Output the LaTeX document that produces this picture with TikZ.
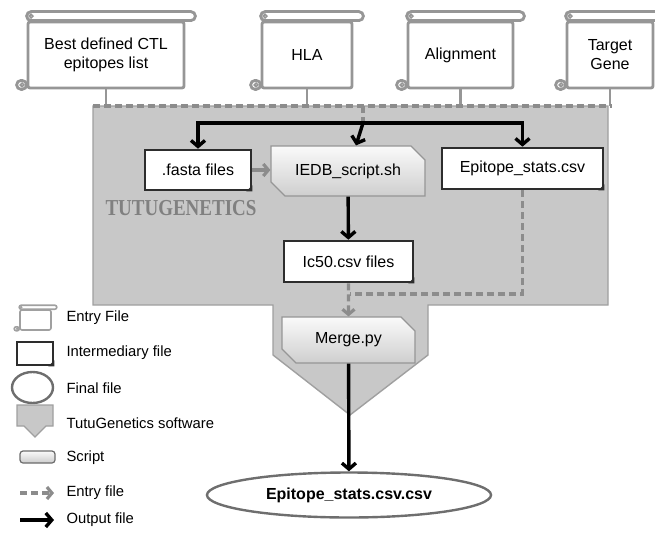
\documentclass[tikz,border=0pt]{standalone}
\usepackage{fontspec}
\setmainfont{Liberation Sans}
\newfontfamily\brandfont{Liberation Serif}
\usetikzlibrary{arrows.meta,calc,shapes.misc,shapes.geometric}

\definecolor{softfill}{RGB}{200,200,200}
\definecolor{softedge}{RGB}{160,160,160}
\definecolor{dashgray}{RGB}{140,140,140}
\definecolor{scrollgray}{RGB}{150,150,150}
\definecolor{darkedge}{RGB}{45,45,45}
\definecolor{scriptedge}{RGB}{150,150,150}
\definecolor{brandgray}{RGB}{128,128,128}
\definecolor{finaledge}{RGB}{110,110,110}

\newcommand\rollparts[4]{%
  \draw[scrollline,line width=#3,rounded corners=#4] ($(#1.north west)+(0,-#2)$) rectangle ($(#1.north east)+(#2+1,0)$);
  \draw[scrollline,line width=#3,rounded corners=#4] ($(#1.south west)+(-#2-1,-#2)$) rectangle (#1.south west);
  \draw[scrollline,line width=#3*0.6] ($(#1.north west)+(#2*0.5,-#2*0.5)$) circle (#2*0.2);
  \draw[scrollline,line width=#3*0.6] ($(#1.south west)+(-#2*0.5,-#2*0.5)$) circle (#2*0.2);
}

\begin{document}
\begin{tikzpicture}[x=1pt,y=-1pt,
   every node/.style={font=\fontsize{16}{19}\selectfont},
   scrollline/.style={draw=scrollgray,fill=white},
   entryfile/.style={draw=scrollgray,line width=2.8pt,fill=white,rounded corners=2pt,inner sep=0pt,align=center},
   midfile/.style={draw=darkedge,line width=2.6pt,fill=white,inner sep=0pt},
   scriptbox/.style={chamfered rectangle,chamfered rectangle corners={north east,south west},
      chamfered rectangle xsep=7pt,chamfered rectangle ysep=7pt,draw=scriptedge,line width=1.2pt,
      top color=gray!4,bottom color=gray!38,inner sep=0pt},
   softline/.style={draw=softedge,line width=1.4pt,fill=softfill},
   stemline/.style={draw=scrollgray,line width=2.8pt},
   outarrow/.style={draw=black,line width=3.4pt,-{Straight Barb[length=6pt,width=14pt]}},
   inarrow/.style={draw=dashgray,line width=3.2pt,-{Straight Barb[length=5pt,width=12pt]}},
   indash/.style={inarrow,dash pattern=on 7pt off 4pt},
   legendtext/.style={anchor=west,font=\fontsize{14.8}{17}\selectfont}]
   \useasboundingbox (0,0) rectangle (655,535);
   \clip (0,0) rectangle (655,535);

   % software block
   \draw[softline] (93,106) -- (608,106) -- (608,305) -- (428,305) -- (428,355) -- (350,415)
      -- (273,355) -- (273,305) -- (93,305) -- cycle;
   \coordinate (tl) at (93,106);
   \coordinate (tr) at (612,106);
   \coordinate (hub) at (363,123);
   \coordinate (joint) at (350,294);

   % entry files
   \node[entryfile,minimum width=156pt,minimum height=66pt] (ctl) at (106,55) {Best defined CTL\\epitopes list};
   \node[entryfile,minimum width=90pt,minimum height=66pt] (hla) at (307,55) {HLA};
   \node[entryfile,minimum width=105pt,minimum height=66pt] (align) at (460.5,55) {Alignment};
   \node[entryfile,minimum width=86pt,minimum height=66pt] (gene) at (610,55) {Target\\Gene};
   \foreach \n in {ctl,hla,align,gene}{
     \rollparts{\n}{9}{2.8pt}{4.5pt}
     \draw[stemline] (\n.south) -- (\n.south |- tl);
   }
   \draw[indash,-] (tl) -- (tr);
   \draw[indash,-] (tl -| hub) -- (hub);

   \node[brandgray,font=\brandfont\bfseries\fontsize{19}{21}\selectfont] (brand) at (181,208) {\scalebox{1}[1.2]{TUTUGENETICS}};

   % files and scripts
   \node[midfile,minimum width=106pt,minimum height=40pt] (fasta) at (198,170) {.fasta files};
   \node[scriptbox,minimum width=154pt,minimum height=50pt] (iedb) at (348,171) {IEDB\_script.sh};
   \node[midfile,minimum width=161pt,minimum height=41pt] (stats) at (522.5,168.5) {Epitope\_stats.csv};
   \node[midfile,minimum width=129pt,minimum height=41pt] (ic50) at (348.5,261.5) {Ic50.csv files};
   \node[scriptbox,minimum width=133pt,minimum height=46pt] (merge) at (348.5,340) {Merge.py};
   \node[ellipse,draw=finaledge,line width=2.4pt,fill=white,minimum width=284pt,minimum height=45pt,
      inner sep=0pt,font=\bfseries\fontsize{16}{19}\selectfont] (final) at (349,495) {Epitope\_stats.csv.csv};

   \draw[outarrow] (hub) -| (fasta);
   \draw[outarrow] (hub) -| (stats);
   \draw[outarrow] (hub) -- (iedb);
   \draw[inarrow] (fasta.east) -- (fasta.east -| iedb.west);
   \draw[outarrow] (iedb) -- (ic50);
   \draw[indash,-] (stats) |- (joint);
   \draw[indash] (ic50) -- (merge);
   \draw[outarrow] (merge) -- (final);

   % legend
   \node[entryfile,line width=1.6pt,draw=softedge,minimum width=31pt,minimum height=20pt] (lgentry) at (35.5,320) {};
   \begin{scope}[scrollline/.style={draw=softedge,fill=white}]
     \rollparts{lgentry}{4}{1.6pt}{2pt}
   \end{scope}
   \node[midfile,minimum width=36pt,minimum height=23pt] (lginter) at (35,353.5) {};
   \node[ellipse,draw=finaledge,line width=2.4pt,minimum width=41pt,minimum height=31pt,inner sep=0pt] (lgfinal) at (32.5,387.5) {};
   \draw[softline] (17,405) -- (53,405) -- (53,426) -- (46,426) -- (35,437) -- (24,426) -- (17,426) -- cycle;
   \node[draw=darkedge!70,line width=1.2pt,rounded corners=3pt,top color=gray!4,bottom color=gray!40,
      minimum width=35pt,minimum height=12pt,inner sep=0pt] (lgscript) at (37.5,457) {};
   \coordinate (lgdasha) at (20,493);
   \coordinate (lgdashb) at (54,493);
   \coordinate (lgouta) at (20,520);
   \coordinate (lgoutb) at (54,520);
   \draw[indash] (lgdasha) -- (lgdashb);
   \draw[outarrow] (lgouta) -- (lgoutb);
   \foreach \n in {fasta,stats,ic50,lginter}
     \fill[darkedge] ($(\n.south east)+(-6,0)$) -- (\n.south east) -- ($(\n.south east)+(0,-6)$) -- cycle;

   \node[legendtext] (lt1) at (63,318) {Entry File};
   \node[legendtext] (lt2) at (63,353) {Intermediary file};
   \node[legendtext] (lt3) at (63,388) {Final file};
   \node[legendtext] (lt4) at (63,423) {TutuGenetics software};
   \node[legendtext] (lt5) at (63,458) {Script};
   \node[legendtext] (lt6) at (63,493) {Entry file};
   \node[legendtext] (lt7) at (63,520) {Output file};
\end{tikzpicture}
\end{document}
